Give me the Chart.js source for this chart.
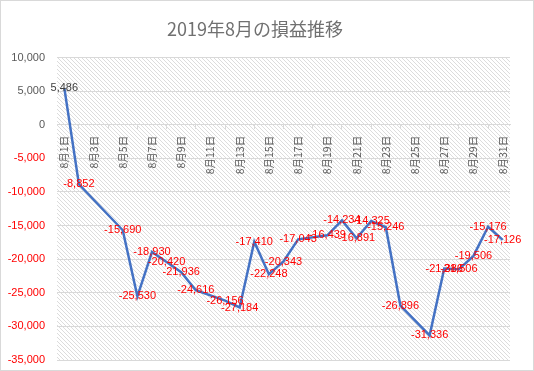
<!DOCTYPE html>
<html lang="ja">
<head>
<meta charset="UTF-8">
<title>2019年8月の損益推移</title>
<script src="https://cdn.jsdelivr.net/npm/chart.js"></script>
<style>
    html, body { margin: 0; padding: 0; background: #fff; }
    #wrap { width: 534px; height: 371px; }
</style>
</head>
<body>
<div id="wrap"><canvas id="myChart" width="534" height="371"></canvas></div>
<script>
    // 日付（カテゴリ）
    const labels = [
        '8月1日', '8月2日', '8月3日', '8月4日', '8月5日', '8月6日', '8月7日', '8月8日',
        '8月9日', '8月10日', '8月11日', '8月12日', '8月13日', '8月14日', '8月15日', '8月16日',
        '8月17日', '8月18日', '8月19日', '8月20日', '8月21日', '8月22日', '8月23日', '8月24日',
        '8月25日', '8月26日', '8月27日', '8月28日', '8月29日', '8月30日', '8月31日'
    ];
    // 損益（データなしの日は null）
    const profit = [
        5486, -8852, null, null, -15690, -25530, -18930, -20420,
        -21936, -24616, null, -26156, -27184, -17410, -22248, -20343,
        -17043, null, -16439, -14234, -16891, -14325, -15246, -26896,
        null, -31336, -21386, -21506, -19506, -15176, -17126
    ];
    const yMin = -35000;
    const yMax = 10000;
    const yStep = 5000;

    const fmt = v => v.toLocaleString('en-US');

    // 斜線パターン（プロットエリアの背景）
    function makeHatch() {
        const c = document.createElement('canvas');
        c.width = 4;
        c.height = 4;
        const g = c.getContext('2d');
        g.fillStyle = '#ffffff';
        g.fillRect(0, 0, 4, 4);
        g.fillStyle = '#dcdcdc';
        for (let i = 0; i < 4; i++) g.fillRect(i, i, 1, 1);
        return c;
    }

    const background = {
        id: 'background',
        beforeDraw(chart) {
            const { ctx, chartArea: a, width, height } = chart;
            ctx.save();
            ctx.fillStyle = '#ffffff';
            ctx.fillRect(0, 0, width, height);
            ctx.fillStyle = ctx.createPattern(makeHatch(), 'repeat');
            ctx.fillRect(a.left, a.top, a.right - a.left, a.bottom - a.top);
            ctx.strokeStyle = '#d9d9d9';
            ctx.lineWidth = 1;
            ctx.strokeRect(0.5, 0.5, width - 1, height - 1);
            ctx.restore();
        }
    };

    // データラベル（点の中央に表示）
    const pointLabels = {
        id: 'pointLabels',
        afterDatasetsDraw(chart) {
            const { ctx } = chart;
            const meta = chart.getDatasetMeta(0);
            ctx.save();
            ctx.font = '11px "Liberation Sans", Arial, sans-serif';
            ctx.textAlign = 'center';
            ctx.textBaseline = 'middle';
            meta.data.forEach((pt, i) => {
                const v = profit[i];
                if (v === null) return;
                ctx.fillStyle = v < 0 ? '#ff0000' : '#404040';
                ctx.fillText(fmt(v), pt.x, pt.y);
            });
            ctx.restore();
        }
    };

    // 軸のはみ出し余白を無効にする
    const noPad = s => {
        s.paddingTop = 0;
        s.paddingBottom = 0;
        s.paddingLeft = 0;
        s.paddingRight = 0;
    };

    new Chart(document.getElementById('myChart'), {
        type: 'line',
        data: {
            labels: labels,
            datasets: [{
                label: '損益',
                data: profit,
                borderColor: '#4472c4',
                borderWidth: 2.5,
                pointRadius: 0,
                pointHoverRadius: 0,
                tension: 0,
                spanGaps: true,
                fill: false
            }]
        },
        options: {
            responsive: false,
            animation: false,
            layout: { padding: { top: 0, right: 24, bottom: 11, left: 0 } },
            plugins: {
                legend: { display: false },
                tooltip: { enabled: false },
                title: {
                    display: true,
                    text: '2019年8月の損益推移',
                    color: '#707070',
                    font: { family: '"Noto Sans CJK JP", sans-serif', size: 18, weight: 'normal' },
                    padding: { top: 18, bottom: 18 }
                }
            },
            scales: {
                x: {
                    position: { y: 0 },
                    offset: true,
                    afterFit: s => { s.height = 0; noPad(s); },
                    grid: {
                        offset: true,
                        drawOnChartArea: false,
                        drawTicks: true,
                        tickLength: 4,
                        color: '#d9d9d9'
                    },
                    border: { display: true, color: '#d9d9d9', width: 1 },
                    ticks: {
                        autoSkip: false,
                        maxRotation: 90,
                        minRotation: 90,
                        padding: 7,
                        color: '#595959',
                        font: { family: '"Noto Sans CJK JP", sans-serif', size: 10.5 },
                        callback: function (val, idx) {
                            return idx % 2 === 0 ? this.getLabelForValue(val) : null;
                        }
                    }
                },
                y: {
                    min: yMin,
                    max: yMax,
                    afterFit: s => { s.width = 57; noPad(s); },
                    grid: { color: '#d9d9d9', drawTicks: false },
                    border: { display: false },
                    ticks: {
                        stepSize: yStep,
                        padding: 12,
                        font: { family: '"Liberation Sans", Arial, sans-serif', size: 11 },
                        color: c => c.tick.value < 0 ? '#ff0000' : '#595959',
                        callback: v => fmt(v)
                    }
                }
            }
        },
        plugins: [background, pointLabels]
    });
</script>
</body>
</html>
